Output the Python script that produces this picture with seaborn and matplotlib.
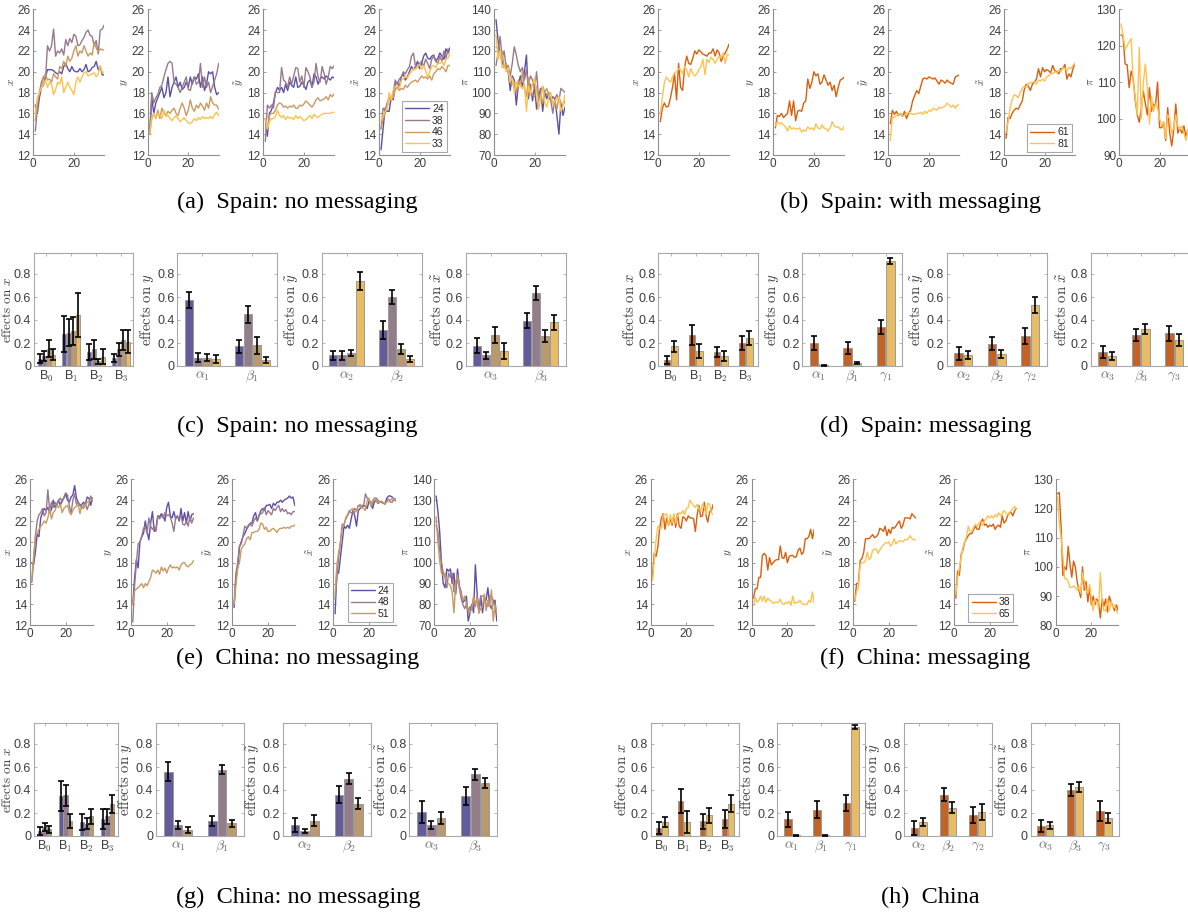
import numpy as np
import pandas as pd
import matplotlib
matplotlib.use("Agg")
import matplotlib.pyplot as plt
import seaborn as sns

# ---------------- DATA: time series (t = 1..35) ----------------
# (a) Spain: no messaging, groups 24, 38, 46, 33
a_x_24 = [16.8, 16.0, 17.5, 18.5, 18.7, 19.5, 20.2, 20.2, 20.2, 20.1, 19.9, 19.8, 20.0, 19.8, 20.5, 20.8, 20.3, 20.0, 20.5, 20.1, 20.0, 20.0, 20.3, 20.0, 20.2, 20.7, 20.0, 20.1, 20.4, 20.5, 21.0, 20.2, 20.5, 19.7, 19.7]
a_x_38 = [14.3, 16.5, 18.0, 19.0, 19.5, 19.3, 22.5, 22.0, 22.5, 24.1, 21.5, 22.0, 21.8, 22.2, 21.6, 23.1, 22.5, 23.2, 22.8, 23.6, 23.4, 22.5, 22.6, 23.0, 23.3, 23.8, 24.0, 23.5, 23.4, 22.5, 23.0, 21.7, 24.0, 24.1, 24.5]
a_x_46 = [15.3, 17.0, 18.0, 18.5, 19.5, 19.8, 19.2, 19.3, 19.0, 19.8, 19.5, 19.3, 20.5, 20.3, 21.0, 20.5, 21.5, 21.0, 21.3, 22.0, 22.5, 21.5, 22.0, 21.8, 22.5, 22.0, 21.5, 21.8, 21.6, 22.8, 22.3, 21.9, 22.2, 22.1, 22.1]
a_x_33 = [16.0, 17.5, 18.0, 18.5, 18.8, 19.2, 18.5, 19.0, 18.8, 17.8, 18.3, 19.0, 18.8, 19.5, 18.0, 18.5, 19.0, 18.5, 18.2, 17.8, 19.0, 19.5, 19.0, 19.5, 19.9, 20.0, 19.6, 19.7, 19.8, 19.9, 19.5, 19.8, 20.6, 19.9, 20.0]
a_y_24 = [14.0, 17.5, 16.0, 17.0, 17.5, 18.0, 18.5, 17.5, 18.0, 19.5, 17.6, 18.5, 19.0, 19.5, 18.5, 19.0, 18.3, 18.5, 19.0, 18.5, 19.5, 18.8, 19.5, 19.3, 19.8, 18.5, 19.5, 18.2, 18.8, 20.0, 19.8, 20.0, 18.5, 17.8, 18.0]
a_y_38 = [14.0, 18.0, 17.0, 17.5, 17.8, 18.5, 18.7, 19.5, 20.2, 20.8, 21.0, 20.8, 19.0, 18.8, 18.5, 18.0, 18.5, 19.0, 19.5, 18.3, 18.2, 19.0, 19.5, 18.8, 19.0, 20.8, 18.5, 19.5, 18.5, 19.0, 18.0, 18.6, 19.2, 19.8, 20.8]
a_y_46 = [14.0, 15.5, 16.0, 15.5, 16.3, 15.5, 16.5, 16.0, 15.8, 16.2, 16.0, 16.3, 16.5, 16.0, 15.8, 16.5, 17.0, 16.5, 15.8, 16.3, 17.3, 16.5, 16.2, 16.8, 16.5, 17.0, 16.7, 16.3, 17.0, 16.5, 17.6, 17.0, 16.8, 16.8, 16.4]
a_y_33 = [14.0, 15.5, 16.0, 15.6, 16.0, 15.8, 15.5, 16.3, 15.7, 15.8, 15.5, 15.3, 15.6, 15.8, 15.5, 15.2, 15.4, 15.6, 15.3, 15.1, 15.0, 15.2, 15.5, 15.3, 15.6, 15.4, 15.7, 15.5, 15.6, 15.5, 15.7, 15.5, 15.9, 16.1, 15.8]
a_yt_24 = [15.5, 13.8, 16.0, 16.3, 17.0, 18.0, 18.5, 18.2, 18.5, 18.0, 18.8, 18.2, 19.0, 18.7, 18.5, 19.5, 18.5, 18.6, 19.0, 18.7, 18.3, 19.0, 19.2, 18.5, 19.8, 19.5, 18.8, 19.3, 19.5, 19.3, 19.6, 19.4, 19.2, 19.5, 19.4]
a_yt_38 = [13.3, 16.8, 16.5, 16.8, 16.5, 18.1, 18.0, 18.0, 20.4, 19.2, 19.0, 18.5, 19.5, 18.8, 19.6, 20.4, 20.3, 19.0, 19.6, 18.5, 20.4, 20.0, 19.5, 18.5, 19.0, 20.8, 19.5, 19.0, 20.5, 19.8, 18.8, 19.5, 20.5, 20.3, 20.6]
a_yt_46 = [15.5, 14.5, 15.8, 16.0, 16.0, 16.3, 16.8, 17.0, 16.9, 16.6, 16.7, 16.5, 16.7, 16.6, 16.8, 16.5, 16.5, 16.8, 16.7, 16.9, 17.2, 17.0, 16.8, 16.6, 16.9, 17.3, 17.5, 17.2, 17.3, 17.4, 17.6, 17.3, 17.8, 17.6, 17.9]
a_yt_33 = [15.5, 14.5, 15.2, 15.5, 15.5, 15.7, 16.3, 15.8, 15.6, 15.8, 15.4, 15.7, 15.5, 15.6, 15.4, 15.8, 15.5, 15.7, 15.5, 15.3, 15.4, 15.6, 15.8, 15.5, 15.9, 15.7, 15.6, 15.8, 15.9, 16.0, 16.0, 16.0, 16.0, 16.1, 16.1]
a_xt_24 = [12.5, 14.5, 16.5, 16.2, 16.2, 17.5, 17.3, 18.8, 19.0, 18.5, 19.5, 19.8, 19.2, 19.5, 20.0, 20.5, 20.2, 20.5, 21.0, 20.3, 20.8, 21.5, 21.8, 21.3, 21.2, 21.5, 21.6, 21.0, 21.3, 21.8, 21.5, 21.2, 22.2, 21.8, 22.3]
a_xt_38 = [14.5, 16.5, 16.3, 17.0, 17.5, 17.3, 18.0, 19.2, 18.8, 19.3, 19.5, 20.0, 19.8, 20.2, 20.5, 21.5, 21.8, 20.5, 20.5, 20.8, 21.0, 20.5, 21.2, 20.8, 20.3, 21.2, 21.5, 21.0, 20.8, 21.5, 21.0, 22.0, 21.3, 22.2, 22.0]
a_xt_46 = [14.5, 15.5, 16.0, 16.5, 17.5, 17.3, 17.5, 18.3, 18.5, 18.2, 18.4, 18.3, 18.7, 18.5, 18.8, 19.0, 19.1, 19.2, 19.0, 19.3, 19.6, 19.4, 19.5, 19.3, 19.6, 19.2, 19.8, 20.0, 20.3, 20.2, 20.5, 20.3, 20.0, 20.6, 20.6]
a_xt_33 = [15.3, 15.8, 16.2, 16.5, 18.0, 17.3, 18.2, 18.6, 18.7, 18.4, 19.2, 19.3, 19.6, 19.4, 19.8, 20.0, 20.3, 20.2, 20.5, 20.7, 20.2, 20.6, 20.1, 19.5, 20.0, 20.5, 20.6, 20.4, 20.8, 20.8, 21.0, 20.6, 21.2, 21.3, 21.8]
a_pi_24 = [135, 125, 118, 115, 112, 113, 110, 101, 108, 106, 94, 104, 108, 102, 110, 118, 97, 104, 96, 103, 92, 98, 102, 91, 100, 97, 100, 96, 98, 97, 89, 80, 95, 89, 93]
a_pi_38 = [113, 119, 127, 117, 120, 112, 113, 108, 114, 122, 118, 113, 110, 112, 106, 111, 104, 108, 106, 102, 110, 97, 101, 103, 100, 99, 98, 96, 90, 97, 99, 96, 102, 101, 100]
a_pi_46 = [122, 121, 118, 120, 112, 114, 111, 105, 104, 105, 100, 106, 103, 110, 102, 98, 107, 101, 99, 98, 103, 96, 98, 95, 100, 102, 99, 97, 95, 96, 92, 98, 95, 94, 96]
a_pi_33 = [128, 116, 120, 112, 113, 110, 112, 105, 107, 100, 105, 103, 104, 102, 104, 91, 103, 99, 104, 107, 100, 92, 97, 103, 95, 93, 98, 100, 94, 96, 97, 98, 91, 94, 99]

# (b) Spain: with messaging, groups 61, 81
b_x_61 = [15.2, 16.5, 17.0, 16.6, 16.7, 17.5, 18.5, 19.8, 17.3, 20.8, 18.5, 18.2, 20.5, 21.5, 20.8, 20.7, 21.3, 22.0, 21.7, 22.1, 21.9, 21.7, 21.6, 21.5, 21.8, 21.8, 22.2, 21.5, 22.1, 21.8, 21.0, 21.5, 21.8, 22.2, 22.7]
b_x_81 = [16.0, 17.5, 19.0, 19.5, 19.2, 19.0, 19.5, 19.9, 20.0, 20.3, 20.2, 19.8, 20.5, 20.2, 19.5, 20.3, 19.8, 19.6, 19.8, 20.2, 20.5, 21.2, 19.7, 21.2, 20.9, 21.4, 21.2, 20.8, 21.2, 21.5, 21.3, 21.8, 20.8, 21.7, 21.6]
b_y_61 = [14.6, 15.8, 15.7, 16.0, 15.6, 15.8, 16.0, 17.2, 15.8, 17.2, 15.3, 16.2, 16.3, 16.2, 17.0, 17.2, 19.3, 18.4, 19.0, 20.0, 19.6, 19.8, 18.8, 19.0, 19.7, 19.2, 18.7, 19.0, 18.2, 18.7, 17.6, 18.5, 19.2, 19.3, 19.5]
b_y_81 = [14.8, 15.2, 15.0, 15.1, 14.9, 14.7, 14.3, 14.8, 14.5, 14.6, 14.5, 14.5, 14.6, 14.2, 14.4, 14.3, 14.7, 14.5, 14.6, 14.4, 15.0, 14.6, 14.5, 14.9, 14.6, 14.5, 14.3, 14.6, 15.2, 14.8, 14.7, 14.7, 14.5, 14.4, 14.8]
b_yt_61 = [15.0, 16.3, 15.9, 16.2, 15.8, 16.0, 15.7, 16.2, 15.5, 16.0, 16.3, 17.2, 17.7, 18.2, 17.9, 18.6, 19.3, 19.4, 19.3, 19.5, 19.4, 19.3, 19.4, 19.1, 18.8, 19.2, 19.1, 18.9, 19.2, 19.0, 18.9, 18.8, 19.5, 19.6, 19.7]
b_yt_81 = [13.4, 15.7, 15.6, 15.8, 15.9, 16.0, 15.7, 15.8, 16.0, 16.1, 16.0, 15.9, 15.9, 16.0, 16.0, 16.1, 15.9, 16.2, 16.0, 16.3, 16.2, 16.5, 16.4, 16.3, 16.6, 16.5, 16.6, 16.7, 17.0, 16.8, 16.6, 16.8, 16.5, 16.8, 16.8]
b_xt_61 = [13.6, 15.6, 15.5, 16.0, 16.3, 16.5, 16.4, 16.8, 17.2, 18.3, 18.8, 18.6, 18.2, 18.8, 19.0, 19.3, 20.3, 19.5, 20.4, 20.0, 20.2, 20.1, 19.9, 20.6, 20.1, 20.0, 19.8, 20.3, 20.3, 20.7, 19.3, 19.8, 19.5, 20.3, 20.8]
b_xt_81 = [14.2, 15.2, 16.5, 17.3, 17.8, 17.7, 17.5, 18.0, 18.4, 18.6, 18.5, 18.9, 18.9, 19.0, 19.0, 18.8, 19.2, 19.1, 19.3, 19.1, 19.5, 19.6, 19.8, 19.8, 20.0, 19.9, 20.2, 20.0, 20.4, 20.3, 20.1, 20.4, 20.3, 20.6, 20.8]
b_pi_61 = [123, 122.5, 115, 114.8, 108.5, 113, 111, 105, 101, 99, 103, 107.5, 104, 101, 108.5, 102, 104, 103.5, 110, 97.5, 97.5, 99, 94, 103, 96, 92.5, 97, 104, 96, 97.5, 96, 98, 95, 97, 94]
b_pi_81 = [126, 123, 119, 120, 121, 122, 110, 106, 101, 119.5, 100, 110, 115, 108, 98.5, 106, 102, 104, 103, 100, 98, 99, 94.5, 101, 100, 96, 97.5, 101, 98, 97, 98, 96, 94, 97, 93]

# (e) China: no messaging, groups 24, 48, 51
e_x_24 = [18.0, 17.8, 19.0, 20.7, 20.5, 22.3, 22.8, 23.2, 23.0, 23.3, 22.8, 23.1, 24.0, 23.3, 23.6, 24.0, 23.5, 24.0, 24.2, 24.6, 24.0, 23.8, 24.3, 24.5, 25.4, 24.2, 23.8, 23.5, 23.6, 23.8, 23.6, 24.3, 24.2, 23.5, 24.2]
e_x_48 = [16.1, 18.0, 20.5, 22.0, 22.6, 22.8, 23.2, 22.5, 22.8, 25.0, 23.0, 23.8, 23.3, 23.8, 23.5, 24.0, 24.2, 23.8, 24.3, 24.7, 24.5, 23.5, 22.7, 24.0, 24.6, 23.6, 23.8, 23.5, 23.2, 23.5, 23.7, 23.1, 23.6, 24.4, 24.0]
e_x_51 = [16.5, 18.5, 20.6, 20.8, 21.2, 21.5, 21.7, 22.0, 21.8, 22.3, 23.2, 22.2, 22.8, 23.0, 23.5, 23.3, 23.6, 22.8, 23.2, 23.4, 23.5, 22.9, 22.6, 23.0, 23.3, 23.4, 23.6, 22.7, 23.5, 23.2, 23.5, 23.8, 23.9, 24.0, 24.1]
e_y_24 = [14.0, 16.5, 18.3, 17.5, 20.0, 20.5, 20.8, 22.0, 21.0, 20.2, 21.8, 22.9, 21.0, 21.3, 22.5, 22.4, 22.7, 22.5, 22.0, 23.3, 23.8, 22.5, 22.3, 22.9, 22.2, 22.5, 22.0, 23.2, 22.0, 22.8, 21.8, 22.9, 22.0, 22.6, 22.7]
e_y_48 = [12.3, 15.8, 18.0, 19.8, 20.0, 20.5, 21.3, 21.5, 20.8, 22.3, 21.5, 21.2, 21.5, 21.0, 22.5, 22.2, 22.5, 22.3, 22.8, 22.5, 22.6, 22.4, 21.8, 21.0, 22.3, 22.4, 22.2, 22.5, 21.7, 21.6, 22.0, 21.5, 22.4, 21.8, 22.3]
e_y_51 = [14.0, 15.3, 15.5, 15.6, 15.8, 16.0, 15.6, 16.0, 15.8, 16.2, 16.6, 17.3, 17.2, 17.0, 17.3, 16.9, 17.6, 17.2, 17.5, 17.0, 17.5, 17.8, 17.5, 17.6, 17.5, 17.6, 17.3, 17.8, 18.0, 18.0, 17.7, 17.6, 17.8, 17.9, 18.2]
e_yt_24 = [13.7, 16.5, 17.5, 19.5, 20.0, 20.5, 20.8, 21.2, 21.5, 21.8, 21.8, 22.5, 22.8, 22.0, 22.5, 23.0, 23.2, 23.0, 23.5, 23.5, 23.6, 23.2, 23.7, 23.5, 23.8, 23.8, 24.0, 23.8, 24.0, 24.1, 24.2, 24.4, 24.2, 24.3, 23.5]
e_yt_48 = [14.0, 17.0, 18.0, 19.6, 19.8, 20.6, 21.5, 21.3, 21.6, 21.7, 21.5, 22.0, 22.3, 22.0, 22.6, 22.7, 22.8, 23.3, 22.6, 23.0, 22.8, 22.6, 23.2, 23.0, 23.3, 23.5, 22.9, 23.2, 22.9, 23.1, 22.7, 22.8, 22.6, 22.9, 22.9]
e_yt_51 = [14.0, 15.8, 17.5, 18.0, 19.3, 19.6, 19.8, 20.3, 20.5, 20.2, 20.9, 20.9, 21.0, 21.0, 21.2, 21.8, 21.7, 21.2, 21.4, 21.0, 21.0, 21.2, 21.3, 21.1, 20.9, 21.2, 21.3, 21.3, 21.4, 21.3, 21.4, 21.3, 21.5, 21.5, 21.6]
e_xt_24 = [13.1, 17.2, 17.0, 18.5, 20.0, 21.5, 21.3, 21.6, 21.3, 22.2, 23.0, 22.5, 21.5, 23.0, 23.2, 23.3, 23.5, 23.4, 23.2, 23.9, 23.7, 23.2, 23.8, 24.0, 23.7, 23.8, 23.8, 23.7, 23.7, 24.2, 24.4, 24.4, 24.3, 24.0, 24.1]
e_xt_48 = [14.5, 16.5, 18.5, 20.0, 21.7, 21.6, 22.3, 22.6, 23.0, 22.8, 22.8, 23.2, 23.0, 23.5, 23.4, 23.5, 23.5, 24.6, 24.2, 24.0, 23.8, 23.6, 24.2, 24.2, 24.0, 23.8, 23.9, 23.7, 23.6, 24.0, 24.1, 23.8, 23.8, 24.2, 23.9]
e_xt_51 = [15.0, 17.8, 19.0, 20.0, 21.3, 21.7, 22.2, 22.5, 22.8, 23.1, 23.2, 22.8, 23.0, 23.4, 23.6, 23.3, 23.2, 23.0, 24.0, 24.2, 23.4, 24.0, 24.1, 24.0, 23.8, 23.8, 23.9, 23.7, 23.7, 23.8, 24.0, 24.0, 24.2, 24.1, 24.0]
e_pi_24 = [132, 125, 115, 100, 90, 88, 97, 96, 97, 90, 95, 85, 97, 89, 86, 81, 82, 84, 72, 76, 80, 76, 99, 85, 76, 84, 76, 83, 82, 88, 80, 78, 81, 82, 72]
e_pi_48 = [118, 115, 106, 100, 95, 93, 88, 95, 93, 95, 86, 87, 93, 88, 83, 80, 78, 80, 76, 79, 78, 83, 79, 84, 76, 84, 84, 84, 80, 79, 84, 84, 82, 78, 75]
e_pi_51 = [122, 110, 101, 95, 94, 95, 90, 90, 89, 86, 76, 91, 94, 88, 85, 82, 84, 80, 78, 76, 78, 84, 80, 83, 76, 78, 79, 85, 77, 82, 79, 87, 72, 80, 76]

# (f) China: messaging, groups 38, 65
f_x_38 = [16.7, 18.9, 18.6, 19.5, 21.3, 22.3, 22.7, 21.2, 22.3, 21.6, 22.2, 21.6, 22.6, 21.4, 22.7, 21.5, 21.3, 22.4, 22.3, 22.0, 22.5, 22.3, 22.3, 22.2, 21.0, 22.6, 23.5, 22.4, 22.5, 23.8, 22.5, 21.9, 22.9, 23.0, 23.6]
f_x_65 = [16.3, 18.3, 20.2, 21.5, 21.3, 21.3, 22.6, 22.6, 22.7, 21.5, 22.6, 21.8, 22.7, 21.8, 22.5, 22.8, 22.7, 23.0, 22.6, 23.2, 23.3, 24.0, 23.7, 23.5, 23.3, 23.6, 23.2, 23.0, 23.6, 23.3, 22.6, 23.7, 23.6, 22.8, 22.6]
f_y_38 = [14.6, 15.5, 15.5, 16.6, 16.6, 18.7, 18.9, 18.7, 17.3, 18.5, 17.8, 18.0, 18.2, 18.3, 18.3, 19.6, 18.5, 18.4, 19.0, 18.0, 18.6, 18.7, 18.7, 18.5, 18.6, 19.2, 19.4, 18.8, 19.0, 20.3, 20.3, 20.5, 21.2, 20.3, 21.2]
f_y_65 = [13.9, 14.7, 14.2, 14.4, 14.8, 14.3, 14.8, 14.2, 14.6, 14.4, 14.3, 14.1, 14.2, 14.2, 14.2, 14.5, 14.1, 14.0, 14.2, 14.1, 14.3, 13.9, 14.8, 14.1, 14.2, 14.2, 14.4, 14.1, 14.0, 14.0, 14.0, 14.4, 14.2, 15.2, 14.1]
f_yt_38 = [14.3, 16.0, 16.0, 18.2, 18.4, 19.0, 20.3, 20.3, 20.3, 20.5, 20.7, 20.4, 20.5, 20.7, 21.3, 21.2, 21.0, 21.5, 20.6, 21.2, 20.8, 21.4, 21.3, 21.5, 21.8, 22.0, 21.3, 21.6, 22.3, 22.3, 22.3, 22.2, 22.7, 22.5, 22.3]
f_yt_65 = [14.4, 15.2, 15.6, 17.8, 18.0, 18.0, 18.2, 19.0, 18.3, 18.5, 19.2, 19.3, 19.3, 18.9, 19.2, 19.5, 19.7, 19.9, 19.9, 20.0, 19.6, 19.8, 20.3, 19.8, 20.0, 20.1, 20.1, 20.0, 20.2, 20.2, 20.3, 20.6, 20.3, 20.2, 20.2]
f_xt_38 = [14.6, 17.2, 16.8, 18.8, 19.2, 20.0, 20.3, 20.6, 20.8, 20.8, 21.2, 21.5, 21.2, 21.2, 21.8, 22.2, 21.6, 21.7, 21.4, 21.6, 21.5, 21.7, 21.2, 21.5, 21.6, 21.4, 22.5, 21.8, 22.0, 22.5, 22.8, 22.8, 22.5, 23.0, 23.2]
f_xt_65 = [15.0, 16.5, 17.5, 18.5, 19.5, 20.0, 20.5, 21.5, 21.0, 21.0, 21.4, 21.7, 21.5, 21.8, 22.0, 21.6, 22.0, 22.2, 22.5, 22.3, 22.5, 22.3, 22.6, 22.4, 22.8, 22.5, 22.7, 23.0, 22.8, 22.6, 22.8, 23.0, 23.2, 23.4, 23.1]
f_pi_38 = [125, 125.5, 114, 97, 100, 99, 107, 101, 96.5, 102, 100, 95, 92, 89.5, 100, 92, 95, 88, 93, 87, 90, 87, 89, 88, 82.5, 89, 86.5, 89, 84.5, 90, 88, 86.5, 85, 87, 85]
f_pi_65 = [124, 115, 110, 104, 96, 96, 95, 93, 93, 93.5, 93, 92, 93, 91, 98, 95, 92, 91, 94, 89, 85, 89, 88, 86, 98, 88, 85, 85, 89, 85, 88, 86, 87, 85, 84]

# ---------------- DATA: effect estimates (value, error) ----------------
CAT_B = ["B$_{\\mathsf{0}}$", "B$_{\\mathsf{1}}$", "B$_{\\mathsf{2}}$", "B$_{\\mathsf{3}}$"]
CAT_Y2 = [r"$\alpha_1$", r"$\beta_1$"]
CAT_YT2 = [r"$\alpha_2$", r"$\beta_2$"]
CAT_XT2 = [r"$\alpha_3$", r"$\beta_3$"]
CAT_Y3 = [r"$\alpha_1$", r"$\beta_1$", r"$\gamma_1$"]
CAT_YT3 = [r"$\alpha_2$", r"$\beta_2$", r"$\gamma_2$"]
CAT_XT3 = [r"$\alpha_3$", r"$\beta_3$", r"$\gamma_3$"]

# (c) Spain no messaging: series 24, 38, 46, 33
c_x_val = [[0.064, 0.28, 0.12, 0.067], [0.087, 0.29, 0.145, 0.145], [0.15, 0.305, 0.04, 0.225], [0.10, 0.445, 0.08, 0.21]]
c_x_err = [[0.04, 0.155, 0.07, 0.035], [0.04, 0.12, 0.08, 0.055], [0.075, 0.125, 0.02, 0.09], [0.05, 0.19, 0.065, 0.10]]
c_y_val = [[0.576, 0.17], [0.073, 0.45], [0.073, 0.18], [0.06, 0.052]]
c_y_err = [[0.07, 0.06], [0.04, 0.075], [0.03, 0.075], [0.035, 0.03]]
c_yt_val = [[0.093, 0.314], [0.093, 0.60], [0.113, 0.148], [0.739, 0.058]]
c_yt_err = [[0.04, 0.08], [0.04, 0.065], [0.03, 0.04], [0.08, 0.025]]
c_xt_val = [[0.177, 0.395], [0.093, 0.634], [0.27, 0.26], [0.134, 0.38]]
c_xt_err = [[0.065, 0.063], [0.03, 0.06], [0.07, 0.055], [0.07, 0.067]]

# (d) Spain messaging: series 61, 81
d_x_val = [[0.05, 0.268, 0.12, 0.20], [0.17, 0.128, 0.087, 0.245]]
d_x_err = [[0.033, 0.085, 0.045, 0.06], [0.05, 0.06, 0.045, 0.06]]
d_y_val = [[0.20, 0.16, 0.337], [0.008, 0.023, 0.913]]
d_y_err = [[0.06, 0.053, 0.06], [0.004, 0.008, 0.026]]
d_yt_val = [[0.11, 0.195, 0.26], [0.093, 0.105, 0.532]]
d_yt_err = [[0.055, 0.053, 0.067], [0.035, 0.033, 0.07]]
d_xt_val = [[0.12, 0.268, 0.285], [0.084, 0.323, 0.227]]
d_xt_err = [[0.05, 0.053, 0.065], [0.036, 0.044, 0.055]]

# (g) China no messaging: series 24, 48, 51
g_x_val = [[0.04, 0.35, 0.12, 0.15], [0.076, 0.355, 0.107, 0.17], [0.06, 0.13, 0.17, 0.28]]
g_x_err = [[0.035, 0.13, 0.07, 0.085], [0.035, 0.09, 0.05, 0.065], [0.03, 0.06, 0.065, 0.08]]
g_y_val = [[0.56, 0.13], [0.096, 0.575], [0.052, 0.11]]
g_y_err = [[0.08, 0.04], [0.032, 0.04], [0.025, 0.03]]
g_yt_val = [[0.093, 0.36], [0.04, 0.50], [0.134, 0.28]]
g_yt_err = [[0.06, 0.075], [0.018, 0.05], [0.047, 0.048]]
g_xt_val = [[0.21, 0.35], [0.093, 0.535], [0.157, 0.462]]
g_xt_err = [[0.095, 0.08], [0.035, 0.045], [0.05, 0.045]]

# (h) China: series 38, 65
h_x_val = [[0.07, 0.305, 0.13, 0.15], [0.12, 0.12, 0.18, 0.28]]
h_x_err = [[0.05, 0.108, 0.065, 0.08], [0.045, 0.095, 0.065, 0.073]]
h_y_val = [[0.145, 0.23, 0.288], [0.008, 0.008, 0.948]]
h_y_err = [[0.063, 0.073, 0.072], [0.004, 0.004, 0.02]]
h_yt_val = [[0.067, 0.36, 0.183], [0.12, 0.244, 0.21]]
h_yt_err = [[0.06, 0.058, 0.07], [0.033, 0.048, 0.067]]
h_xt_val = [[0.087, 0.40, 0.218], [0.093, 0.425, 0.154]]
h_xt_err = [[0.048, 0.055, 0.085], [0.033, 0.045, 0.044]]

# ---------------- STYLE ----------------
sns.set_theme(style="white")
plt.rcParams["font.family"] = ["Liberation Sans", "DejaVu Sans"]
plt.rcParams["mathtext.fontset"] = "cm"

PUR, MAU, TAN, YEL = "#5C50A5", "#98798C", "#C89A62", "#FFC24C"
DOR, LOR = "#D95F0E", "#FEC250"
SPINE = "#8e8e8e"
BOX = "#a8a8a8"
TXT = "#3d3d3d"

W, H = 1188, 914
fig = plt.figure(figsize=(W / 100, H / 100), dpi=100)


def add_ax(l, t, w, h):
    return fig.add_axes([l / W, 1 - (t + h) / H, w / W, h / H])


def line_panel(ax, series, labels, colors, ylim, yticks, ylabel, legend=False):
    rows = []
    for lab, vals in zip(labels, series):
        for i, v in enumerate(vals):
            rows.append((i + 1, v, lab))
    df = pd.DataFrame(rows, columns=["t", "v", "s"])
    sns.lineplot(data=df, x="t", y="v", hue="s", hue_order=labels, palette=colors,
                 linewidth=1.0, ax=ax, legend=False, estimator=None)
    ax.set_xlim(0, 35)
    ax.set_ylim(*ylim)
    ax.set_xticks([0, 20])
    ax.set_yticks(yticks)
    ax.set_xlabel("")
    ax.set_ylabel(ylabel, fontsize=8, labelpad=1, color=TXT)
    for s in ["top", "right"]:
        ax.spines[s].set_visible(False)
    for s in ["left", "bottom"]:
        ax.spines[s].set_color(SPINE)
        ax.spines[s].set_linewidth(0.8)
    ax.tick_params(direction="in", length=2, width=0.6, color=SPINE, labelsize=8.5,
                   labelcolor=TXT, pad=2, bottom=True, left=True)
    if legend:
        lg = ax.legend(handles=ax.get_lines()[:len(labels)], labels=labels, loc="lower right",
                       fontsize=7.5, handlelength=2.3, handletextpad=0.3, labelspacing=0.15,
                       borderpad=0.3, borderaxespad=0.3, fancybox=False, framealpha=1)
        lg.get_frame().set_edgecolor(BOX)
        lg.get_frame().set_linewidth(0.8)


def bar_panel(ax, vals, errs, hues, colors, cats, ylabel, sans=False):
    nc, ns = len(cats), len(hues)
    rows = []
    for h, vs in zip(hues, vals):
        for ci, v in enumerate(vs):
            rows.append((f"c{ci}", v, h))
    df = pd.DataFrame(rows, columns=["cat", "v", "s"])
    sns.barplot(data=df, x="cat", y="v", hue="s", order=[f"c{i}" for i in range(nc)],
                hue_order=hues, palette=colors, width=ns / (ns + 1.5), gap=0.1,
                errorbar=None, edgecolor="#9a9a9a", linewidth=0.7, legend=False, ax=ax)
    pts = []
    for p in ax.patches:
        pts.append((p.get_x() + p.get_width() / 2, p.get_height()))
    xs, ys, es = [], [], []
    for ci in range(nc):
        grp = sorted([q for q in pts if int(round(q[0])) == ci], key=lambda q: q[0])
        for si, (xc, hgt) in enumerate(grp):
            xs.append(xc)
            ys.append(hgt)
            es.append(errs[si][ci])
    ax.errorbar(xs, ys, yerr=es, fmt="none", ecolor="black", elinewidth=1.2,
                capsize=2, capthick=1.2, zorder=5)
    ax.set_xlim(-0.5, nc - 0.5)
    ax.set_ylim(0, 0.98)
    ax.set_yticks([0, 0.2, 0.4, 0.6, 0.8])
    ax.set_yticklabels(["0", "0.2", "0.4", "0.6", "0.8"])
    ax.set_xticks(range(nc))
    ax.set_xticklabels(cats)
    ax.set_xlabel("")
    ax.set_ylabel(ylabel, fontsize=10.5, labelpad=1, color=TXT)
    for s in ax.spines.values():
        s.set_visible(True)
        s.set_color(BOX)
        s.set_linewidth(0.8)
    ax.tick_params(direction="in", length=2.5, width=0.6, color=BOX, labelsize=9,
                   labelcolor=TXT, pad=2, top=True, right=True, bottom=True, left=True)
    for lab in ax.get_xticklabels():
        if sans:
            lab.set_fontsize(9)
            lab.set_color(TXT)
        else:
            lab.set_fontsize(10)
            lab.set_color("#6a6a6a")


def edge_label(ax, left, width):
    # keep the first panel's y label inside the figure, clear of the tick labels
    ax.yaxis.label.set_fontsize(9.5)
    ax.yaxis.set_label_coords((14.0 - left) / width, 0.5)


def caption(xc, yc, text):
    fig.text(xc / W, 1 - yc / H, text, ha="center", va="center", fontsize=17.5,
             family=["Liberation Serif", "DejaVu Serif"], color="black")


YL = [r"$x$", r"$y$", r"$\tilde{y}$", r"$\tilde{x}$", r"$\pi$"]
T12 = [12, 14, 16, 18, 20, 22, 24, 26]

# ---- row 1: (a) and (b) ----
lefts_a = [33.3, 147.7, 263.3, 379.0, 494.0]
lefts_b = [658.3, 773.3, 888.3, 1004.0, 1119.0]
A_LAB = ["24", "38", "46", "33"]
A_COL = [PUR, MAU, TAN, YEL]
a_sets = [[a_x_24, a_x_38, a_x_46, a_x_33], [a_y_24, a_y_38, a_y_46, a_y_33],
          [a_yt_24, a_yt_38, a_yt_46, a_yt_33], [a_xt_24, a_xt_38, a_xt_46, a_xt_33],
          [a_pi_24, a_pi_38, a_pi_46, a_pi_33]]
for i, l in enumerate(lefts_a):
    ax = add_ax(l, 9.3, 71, 145.7)
    if i < 4:
        line_panel(ax, a_sets[i], A_LAB, A_COL, (12, 26), T12, YL[i], legend=(i == 3))
    else:
        line_panel(ax, a_sets[i], A_LAB, A_COL, (70, 140), list(range(70, 141, 10)), YL[i])

B_LAB = ["61", "81"]
B_COL = [DOR, LOR]
b_sets = [[b_x_61, b_x_81], [b_y_61, b_y_81], [b_yt_61, b_yt_81], [b_xt_61, b_xt_81], [b_pi_61, b_pi_81]]
for i, l in enumerate(lefts_b):
    ax = add_ax(l, 9.3, 71, 145.7)
    if i < 4:
        line_panel(ax, b_sets[i], B_LAB, B_COL, (12, 26), T12, YL[i], legend=(i == 3))
    else:
        line_panel(ax, b_sets[i], B_LAB, B_COL, (90, 130), [90, 100, 110, 120, 130], YL[i])

# ---- row 2: (c) and (d) ----
EL = [r"$\mathrm{effects\ on}\ x$", r"$\mathrm{effects\ on}\ y$",
      r"$\mathrm{effects\ on}\ \tilde{y}$", r"$\mathrm{effects\ on}\ \tilde{x}$"]
blefts_c = [34.0, 177.3, 321.7, 465.7]
blefts_d = [658.3, 802.3, 946.7, 1090.7]
c_sets = [(c_x_val, c_x_err, CAT_B), (c_y_val, c_y_err, CAT_Y2), (c_yt_val, c_yt_err, CAT_YT2), (c_xt_val, c_xt_err, CAT_XT2)]
for i, l in enumerate(blefts_c):
    wd = 100 if i else 99.3
    ax = add_ax(l, 253.3, wd, 112.7)
    v, e, cats = c_sets[i]
    bar_panel(ax, v, e, A_LAB, A_COL, cats, EL[i], sans=(i == 0))
    if i == 0:
        edge_label(ax, l, wd)
d_sets = [(d_x_val, d_x_err, CAT_B), (d_y_val, d_y_err, CAT_Y3), (d_yt_val, d_yt_err, CAT_YT3), (d_xt_val, d_xt_err, CAT_XT3)]
for i, l in enumerate(blefts_d):
    ax = add_ax(l, 253.3, 100, 112.7)
    v, e, cats = d_sets[i]
    bar_panel(ax, v, e, B_LAB, B_COL, cats, EL[i], sans=(i == 0))

# ---- row 3: (e) and (f) ----
lefts_e = [30.0, 131.0, 232.3, 333.3, 434.3]
lefts_f = [650.7, 751.7, 853.0, 954.0, 1055.7]
E_LAB = ["24", "48", "51"]
E_COL = [PUR, MAU, TAN]
e_sets = [[e_x_24, e_x_48, e_x_51], [e_y_24, e_y_48, e_y_51], [e_yt_24, e_yt_48, e_yt_51],
          [e_xt_24, e_xt_48, e_xt_51], [e_pi_24, e_pi_48, e_pi_51]]
for i, l in enumerate(lefts_e):
    ax = add_ax(l, 479.3, 62.5, 146)
    if i < 4:
        line_panel(ax, e_sets[i], E_LAB, E_COL, (12, 26), T12, YL[i], legend=(i == 3))
    else:
        line_panel(ax, e_sets[i], E_LAB, E_COL, (70, 140), list(range(70, 141, 10)), YL[i])
F_LAB = ["38", "65"]
f_sets = [[f_x_38, f_x_65], [f_y_38, f_y_65], [f_yt_38, f_yt_65], [f_xt_38, f_xt_65], [f_pi_38, f_pi_65]]
for i, l in enumerate(lefts_f):
    ax = add_ax(l, 479.3, 62.5, 146)
    if i < 4:
        line_panel(ax, f_sets[i], F_LAB, B_COL, (12, 26), T12, YL[i], legend=(i == 3))
    else:
        line_panel(ax, f_sets[i], F_LAB, B_COL, (80, 130), [80, 90, 100, 110, 120, 130], YL[i])

# ---- row 4: (g) and (h) ----
blefts_g = [34.0, 156.0, 282.7, 409.3]
blefts_h = [650.7, 777.3, 904.0, 1030.7]
g_sets = [(g_x_val, g_x_err, CAT_B), (g_y_val, g_y_err, CAT_Y2), (g_yt_val, g_yt_err, CAT_YT2), (g_xt_val, g_xt_err, CAT_XT2)]
for i, l in enumerate(blefts_g):
    wd = 88 if i else 84
    ax = add_ax(l, 723.3, wd, 112.7)
    v, e, cats = g_sets[i]
    bar_panel(ax, v, e, E_LAB, E_COL, cats, EL[i], sans=(i == 0))
    if i == 0:
        edge_label(ax, l, wd)
h_sets = [(h_x_val, h_x_err, CAT_B), (h_y_val, h_y_err, CAT_Y3), (h_yt_val, h_yt_err, CAT_YT3), (h_xt_val, h_xt_err, CAT_XT3)]
for i, l in enumerate(blefts_h):
    ax = add_ax(l, 723.3, 88, 112.7)
    v, e, cats = h_sets[i]
    bar_panel(ax, v, e, F_LAB, B_COL, cats, EL[i], sans=(i == 0))

# ---- captions ----
caption(297, 202, "(a)  Spain: no messaging")
caption(910, 202, "(b)  Spain: with messaging")
caption(297, 426, "(c)  Spain: no messaging")
caption(926, 426, "(d)  Spain: messaging")
caption(298, 658, "(e)  China: no messaging")
caption(925, 658, "(f)  China: messaging")
caption(298, 897, "(g)  China: no messaging")
caption(930, 897, "(h)  China")

fig.savefig("out.png", dpi=100)
